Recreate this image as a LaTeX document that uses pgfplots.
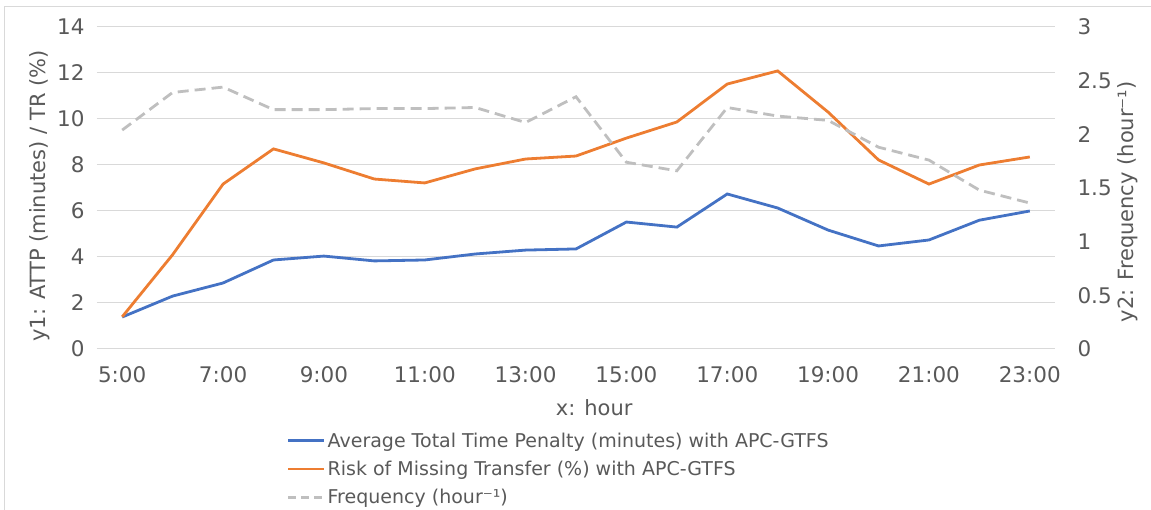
\documentclass[border=0pt]{standalone}
\usepackage{pgfplots}
\pgfplotsset{compat=1.18}
\usepackage{fontspec}
\setmainfont{DejaVu Sans}
\definecolor{cblue}{HTML}{4472C4}
\definecolor{corange}{HTML}{ED7D31}
\definecolor{cgray}{HTML}{BFBFBF}
\definecolor{cgrid}{HTML}{D9D9D9}
\definecolor{ctext}{HTML}{595959}
\begin{document}
\begin{tikzpicture}[x=1pt,y=1pt]
\useasboundingbox (-97,-161) rectangle (1054,349);
\draw[cgrid,line width=1pt] (-92,-200) -- (-92,342) -- (1100,342);
\begin{axis}[
  at={(0,0)}, anchor=south west,
  scale only axis, width=958pt, height=322pt,
  xmin=4.5, xmax=23.5, ymin=0, ymax=14,
  xtick={5,7,...,23},
  xticklabels={5:00,7:00,9:00,11:00,13:00,15:00,17:00,19:00,21:00,23:00},
  ytick={0,2,...,14},
  axis line style={draw=none},
  major tick length=0pt,
  ymajorgrids, grid style={cgrid,line width=1pt},
  tick label style={font=\fontsize{21.5}{25}\selectfont, text=ctext},
  /pgf/number format/assume math mode=true,
  xticklabel style={yshift=-14pt},
  yticklabel style={xshift=-9pt},
  xlabel={x: hour}, ylabel={y1: ATTP (minutes) / TR (\%)},
  label style={font=\fontsize{21}{25}\selectfont, text=ctext},
  xlabel style={at={(axis description cs:0.519,-0.183)}, anchor=center},
  ylabel style={at={(axis description cs:-0.0595,0.475)}, anchor=center},
  clip=false,
]
\addplot[cblue, line width=2.8pt] coordinates {
(5,1.39) (6,2.3) (7,2.87) (8,3.87) (9,4.04) (10,3.83) (11,3.87) (12,4.13) (13,4.3) (14,4.35)
(15,5.52) (16,5.3) (17,6.74) (18,6.13) (19,5.17) (20,4.48) (21,4.74) (22,5.6) (23,6.0)};
\addplot[corange, line width=2.8pt] coordinates {
(5,1.4) (6,4.1) (7,7.17) (8,8.7) (9,8.09) (10,7.39) (11,7.22) (12,7.83) (13,8.26) (14,8.39)
(15,9.17) (16,9.87) (17,11.52) (18,12.09) (19,10.3) (20,8.22) (21,7.17) (22,8.0) (23,8.35)};
\end{axis}
\begin{axis}[
  at={(0,0)}, anchor=south west,
  scale only axis, width=958pt, height=322pt,
  xmin=4.5, xmax=23.5, ymin=0, ymax=3,
  hide x axis,
  axis y line*=right,
  axis line style={draw=none},
  major tick length=0pt,
  ytick={0,0.5,...,3},
  yticklabels={0,0.5,1,1.5,2,2.5,3},
  tick label style={font=\fontsize{21.5}{25}\selectfont, text=ctext},
  yticklabel style={xshift=19pt},
  ylabel={y2: Frequency (hour⁻¹)},
  label style={font=\fontsize{21}{25}\selectfont, text=ctext},
  ylabel style={at={(axis description cs:1.076,0.457)}, anchor=center},
  legend style={at={(0.198,-0.253)}, anchor=north west, draw=none, fill=none,
    font=\fontsize{19}{23}\selectfont, text=ctext, inner sep=0pt,
    row sep=8.5pt, nodes={inner sep=2pt}},
  legend cell align=left,
  legend image code/.code={\draw[#1] (0pt,0pt) -- (36pt,0pt);},
  clip=false,
]
\addlegendimage{cblue, line width=2.8pt}
\addlegendentry{Average Total Time Penalty (minutes) with APC-GTFS}
\addlegendimage{corange, line width=2.8pt}
\addlegendentry{Risk of Missing Transfer (\%) with APC-GTFS}
\addlegendimage{cgray, line width=2.8pt, dash pattern=on 8pt off 5pt}
\addlegendentry{Frequency (hour⁻¹)}
\addplot[cgray, line width=2.8pt, dash pattern=on 11pt off 6pt, forget plot] coordinates {
(5,2.04) (6,2.39) (7,2.44) (8,2.23) (9,2.23) (10,2.24) (11,2.24) (12,2.25) (13,2.11) (14,2.35)
(15,1.74) (16,1.66) (17,2.25) (18,2.17) (19,2.13) (20,1.88) (21,1.76) (22,1.48) (23,1.36)};
\end{axis}
\end{tikzpicture}
\end{document}
